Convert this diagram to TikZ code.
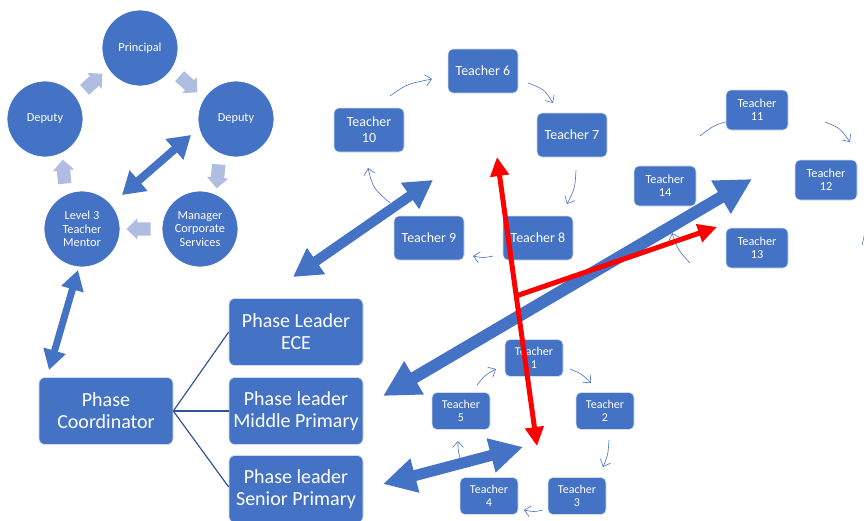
\documentclass[tikz,border=0pt]{standalone}
\usepackage{fontspec}
\setmainfont{Carlito}
\usetikzlibrary{arrows.meta,shapes.arrows}
\definecolor{acc}{HTML}{4472C4}
\definecolor{lite}{HTML}{AEBDE0}
\definecolor{linec}{HTML}{2F5597}
\tikzset{
  circ/.style={circle, fill=acc, draw=white, line width=0.8pt, minimum size=76pt, inner sep=0pt,
    text=white, align=center, font=\fontsize{12.3}{13.5}\selectfont},
  tbox/.style={rounded corners=5pt, fill=acc, draw=white!75!acc, line width=0.6pt, text=white,
    align=center, inner sep=0pt},
  tA/.style={tbox, minimum width=70pt, minimum height=44pt, font=\fontsize{14}{16}\selectfont},
  tB/.style={tbox, minimum width=62pt, minimum height=40pt, font=\fontsize{12.3}{12.8}\selectfont},
  tC/.style={tbox, minimum width=58pt, minimum height=37pt, font=\fontsize{12}{12.8}\selectfont},
  pbox/.style={tbox, rounded corners=6pt, minimum width=134pt, minimum height=67pt,
    font=\fontsize{20}{22}\selectfont},
  larr/.style={single arrow, fill=lite, draw=none, inner sep=6.5pt, minimum height=24pt,
    single arrow head extend=4pt, single arrow head indent=0pt},
  thinarr/.style={draw=acc, line width=0.6pt, -{Straight Barb[length=6pt,width=11pt,line width=0.6pt]}},
  thinline/.style={draw=acc, line width=0.6pt},
  bigarr/.style={draw=acc, line width=#1},
  redarr/.style={draw=red, line width=5pt},
  conn/.style={draw=linec, line width=1.2pt}
}
\begin{document}
\begin{tikzpicture}[x=1pt,y=-1pt]
\useasboundingbox (0,0) rectangle (864,520);
\clip (0,0) rectangle (864,520);

% ---- leadership cycle ----
\node[circ] (pr) at (140,48) {Principal};
\node[circ] (dl) at (45,119) {Deputy};
\node[circ] (dr) at (236,119) {Deputy};
\node[circ] (l3) at (82,229) {Level 3\\Teacher\\Mentor};
\node[circ] (mc) at (200,229) {Manager\\Corporate\\Services};

\node[larr, rotate=42] (la1) at (91,84) {};
\node[larr, rotate=-42] (la2) at (186,82) {};
\node[larr, rotate=-95] (la3) at (218,173) {};
\node[larr, rotate=180] (la4) at (142,229) {};
\node[larr, rotate=95] (la5) at (64,175) {};

% ---- phase boxes ----
\node[pbox] (pc) at (106,411) {Phase\\Coordinator};
\node[pbox] (ece) at (296,332) {Phase Leader\\ECE};
\node[pbox] (mid) at (296,411) {Phase leader\\Middle Primary};
\node[pbox] (sen) at (296,489) {Phase leader\\Senior Primary};
\draw[conn] (pc.east) -- (ece.west);
\draw[conn] (pc.east) -- (mid.west);
\draw[conn] (pc.east) -- ([yshift=2pt]sen.west);

% ---- thin cycle arrows (drawn first) ----
\coordinate (a10s) at (390,96);  \coordinate (a10e) at (432,79);
\coordinate (a6s) at (528,83);   \coordinate (a6e) at (553,103);
\coordinate (a7s) at (576,170);  \coordinate (a7e) at (567,204);
\coordinate (a8s) at (493,256);  \coordinate (a8e) at (473,256);
\coordinate (a9s) at (390,203);  \coordinate (a9e) at (368,168);
\draw[thinarr] (a10s) .. controls (407,84) .. (a10e);
\draw[thinarr] (a6s) .. controls (544,89) .. (a6e);
\draw[thinarr] (a7s) .. controls (575,188) .. (a7e);
\draw[thinarr] (a8s) .. controls (483,258) .. (a8e);
\draw[thinarr] (a9s) .. controls (373,188) .. (a9e);

\coordinate (a14s) at (700,136); \coordinate (a14e) at (733,120);
\coordinate (a11s) at (825,122); \coordinate (a11e) at (850,142);
\coordinate (a12s) at (866,220); \coordinate (a12e) at (862,245);
\coordinate (a13s) at (690,263); \coordinate (a13e) at (672,233);
\draw[thinline] (a14s) .. controls (714,125) .. (a14e);
\draw[thinarr] (a11s) .. controls (840,128) .. (a11e);
\draw[thinline] (a12s) .. controls (865,233) .. (a12e);
\draw[thinarr] (a13s) .. controls (678,250) .. (a13e);

\coordinate (a5s) at (477,385);  \coordinate (a5e) at (496,369);
\coordinate (a1s) at (570,369);  \coordinate (a1e) at (591,383);
\coordinate (a2s) at (609,440);  \coordinate (a2e) at (603,467);
\coordinate (a3s) at (543,510);  \coordinate (a3e) at (524,510);
\coordinate (a4s) at (460,458);  \coordinate (a4e) at (458,441);
\draw[thinarr] (a5s) .. controls (485,375) .. (a5e);
\draw[thinarr] (a1s) .. controls (582,374) .. (a1e);
\draw[thinarr] (a2s) .. controls (608,455) .. (a2e);
\draw[thinarr] (a3s) .. controls (534,512) .. (a3e);
\draw[thinarr] (a4s) .. controls (458,450) .. (a4e);

% ---- teacher boxes ----
\node[tA] (t6) at (483,71) {Teacher 6};
\node[tA] (t10) at (369,130) {Teacher\\10};
\node[tA] (t7) at (572,135) {Teacher 7};
\node[tA] (t9) at (429,238) {Teacher 9};
\node[tA] (t8) at (538,238) {Teacher 8};

\node[tB] (t11) at (757,110) {Teacher\\11};
\node[tB] (t14) at (665,186) {Teacher\\14};
\node[tB] (t12) at (826,180) {Teacher\\12};
\node[tB] (t13) at (757,248) {Teacher\\13};

\node[tC] (t1) at (534,358) {Teacher\\1};
\node[tC] (t5) at (461,411) {Teacher\\5};
\node[tC] (t2) at (605,411) {Teacher\\2};
\node[tC] (t4) at (489,496) {Teacher\\4};
\node[tC] (t3) at (577,496) {Teacher\\3};

% ---- big blue double arrows ----
\coordinate (b1a) at (122,195); \coordinate (b1b) at (191,135);
\coordinate (b2a) at (78,270);  \coordinate (b2b) at (49,370);
\coordinate (b3a) at (293,277); \coordinate (b3b) at (433,180);
\coordinate (b4a) at (383,396); \coordinate (b4b) at (752,179);
\coordinate (b5a) at (383,484); \coordinate (b5b) at (523,447);
\draw[bigarr=8pt, {Triangle[length=22pt,width=26pt]}-{Triangle[length=22pt,width=26pt]}] (b1a) -- (b1b);
\draw[bigarr=7pt, {Triangle[length=20pt,width=22pt]}-{Triangle[length=20pt,width=22pt]}] (b2a) -- (b2b);
\draw[bigarr=10pt, {Triangle[length=28pt,width=30pt]}-{Triangle[length=28pt,width=30pt]}] (b3a) -- (b3b);
\draw[bigarr=12pt, {Triangle[length=36pt,width=36pt]}-{Triangle[length=36pt,width=36pt]}] (b4a) -- (b4b);
\draw[bigarr=11pt, {Triangle[length=33pt,width=33pt]}-{Triangle[length=33pt,width=33pt]}] (b5a) -- (b5b);

% ---- red arrows ----
\coordinate (r1) at (497,157); \coordinate (r2) at (537,446);
\coordinate (rj) at (516,296); \coordinate (r3) at (717,227);
\draw[redarr, {Triangle[length=19pt,width=18pt]}-{Triangle[length=19pt,width=18pt]}] (r1) -- (r2);
\draw[redarr, -{Triangle[length=19pt,width=18pt]}] (rj) -- (r3);
\end{tikzpicture}
\end{document}
